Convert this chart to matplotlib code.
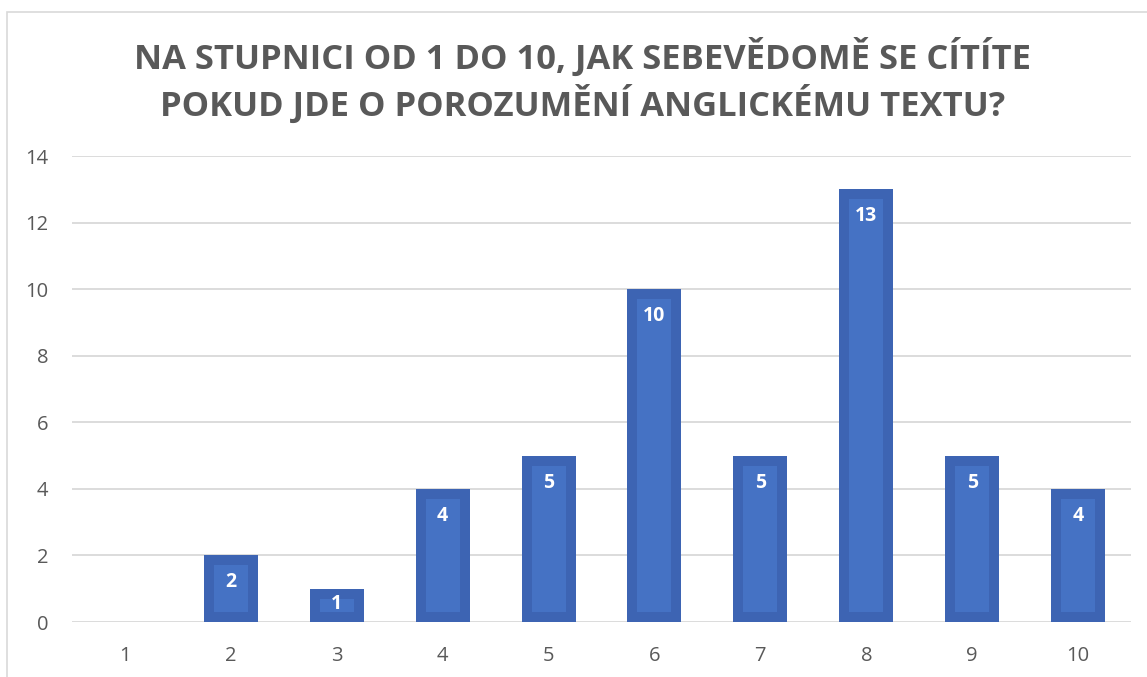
import matplotlib
matplotlib.use("Agg")
import matplotlib.pyplot as plt
from matplotlib.patches import Rectangle

categories = ["1", "2", "3", "4", "5", "6", "7", "8", "9", "10"]
values = [0, 2, 1, 4, 5, 10, 5, 13, 5, 4]
yticks = [0, 2, 4, 6, 8, 10, 12, 14]
title = "NA STUPNICI OD 1 DO 10, JAK SEBEVĚDOMĚ SE CÍTÍTE\nPOKUD JDE O POROZUMĚNÍ ANGLICKÉMU TEXTU?"

W, H = 1147, 677
fig = plt.figure(figsize=(W / 100, H / 100), dpi=100)
plt.rcParams['font.family'] = ['Open Sans', 'DejaVu Sans']

# chart frame
fig.patches.append(Rectangle((7 / W, -0.1), 1.2, 1 - 12 / H + 0.1, transform=fig.transFigure,
                             fill=False, edgecolor="#D9D9D9", linewidth=1.2))

left, right = 72 / W, 1131 / W
bottom, top = 1 - 622 / H, 1 - 156 / H
ax = fig.add_axes([left, bottom, right - left, top - bottom])
ax.set_xlim(-0.5, len(categories) - 0.5)
ax.set_ylim(0, 14)

x = list(range(len(categories)))
bw = 0.51
px_x = (len(categories)) / ((right - left) * W)
px_y = 14 / ((top - bottom) * H)
inset_x = 10 * px_x
inset_y = 10 * px_y

ax.bar(x, values, width=bw, color="#3D64B3", zorder=3)
inner_h = [max(v - 2 * inset_y, 0) if v > 0 else 0 for v in values]
ax.bar(x, inner_h, width=bw - 2 * inset_x, bottom=inset_y, color="#4572C4", zorder=4)

for xi, v in zip(x, values):
    if v > 0:
        ax.text(xi, max(v - 27 * px_y, v / 2 + 1 * px_y), str(v), ha="center", va="center",
                color="white", fontsize=14, fontweight="bold", zorder=5)

ax.set_yticks(yticks)
ax.set_xticks(x)
ax.set_xticklabels(categories)
ax.grid(axis="y", color="#D9D9D9", linewidth=1.3, zorder=0)
for s in ax.spines.values():
    s.set_visible(False)
ax.tick_params(axis="both", length=0, labelsize=14.5, labelcolor="#595959")
ax.tick_params(axis="x", pad=17)
ax.tick_params(axis="y", pad=17)

fig.text(583 / W, 1 - 81 / H, title, ha="center", va="center", fontsize=24.8,
         fontweight="bold", color="#595959", linespacing=1.25)

fig.savefig("out.png", dpi=100)
